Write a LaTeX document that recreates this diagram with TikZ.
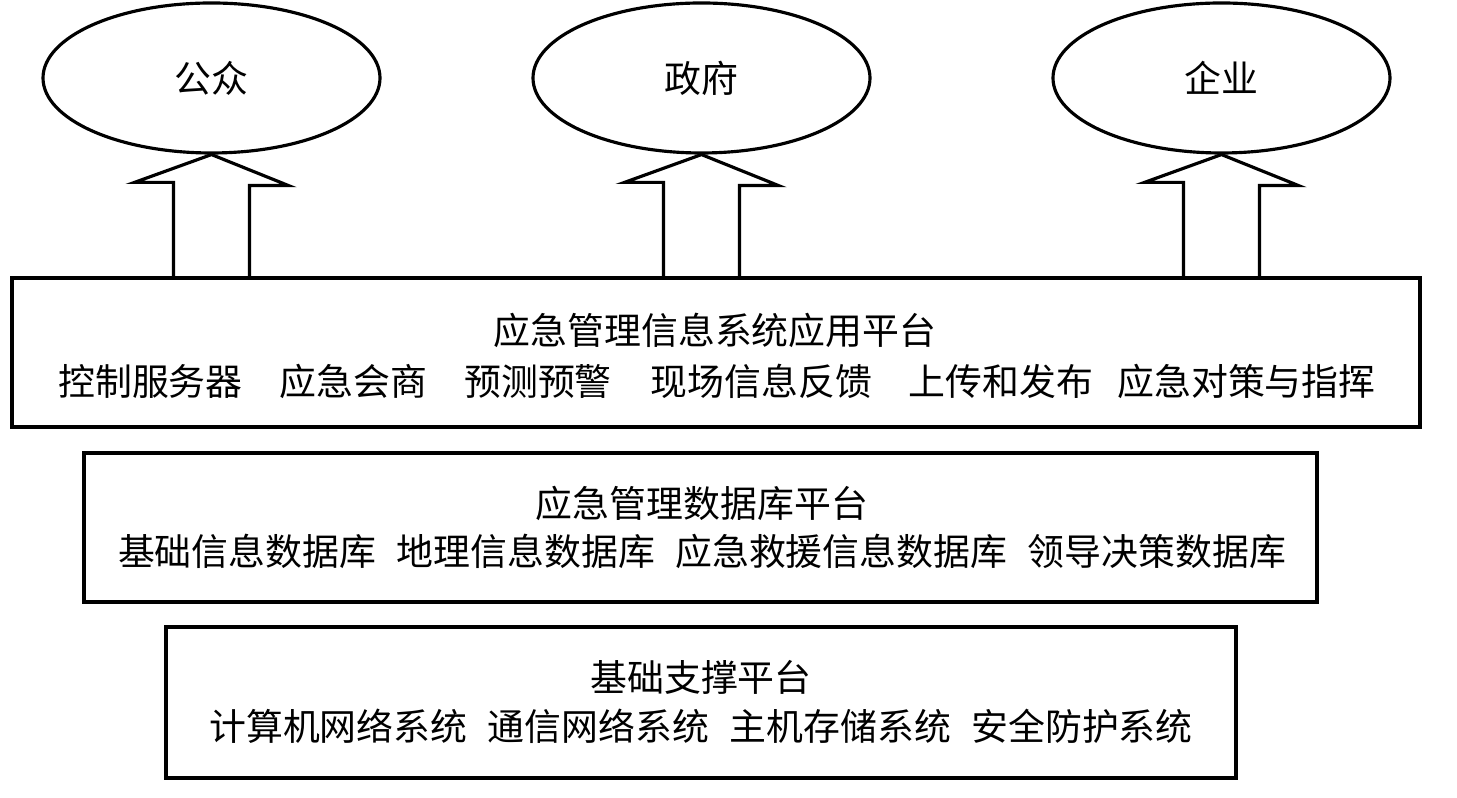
\documentclass[tikz,border=0pt]{standalone}
\usepackage{fontspec}
\newfontfamily\cjk{Noto Sans CJK SC}
\usepackage{tikz}
\usetikzlibrary{shapes.geometric,calc}

\tikzset{
  user/.style={draw, ellipse, line width=0.9pt, minimum width=3.37cm, minimum height=1.50cm, inner sep=0pt},
  layer/.style={draw, rectangle, line width=0.9pt, inner sep=0pt},
  layertext/.style={inner sep=0pt, font=\cjk\fontsize{10.5pt}{12pt}\selectfont},
  blockarrow/.style={line width=0.9pt, line join=miter}
}

\begin{document}
\begin{tikzpicture}
  \useasboundingbox (0,0) rectangle (14.57,-7.98);
  % users on top
  \node[user] (gz) at (2.115,-0.78) {};
  \node[user] (zf) at (7.015,-0.78) {};
  \node[user] (qy) at (12.215,-0.78) {};
  \node[layertext] at (gz) {公众};
  \node[layertext] at (zf) {政府};
  \node[layertext] at (qy) {企业};
  % three platform layers
  \node[layer, minimum width=14.08cm, minimum height=1.49cm] (app) at (7.16,-3.525) {};
  \node[layer, minimum width=12.33cm, minimum height=1.49cm] (db) at (7.005,-5.275) {};
  \node[layer, minimum width=10.70cm, minimum height=1.51cm] (base) at (7.01,-7.025) {};
  \node[layertext] at (7.15,-3.30) {应急管理信息系统应用平台};
  \node[layertext] at (7.17,-3.81) {控制服务器\hspace{1em}应急会商\hspace{1em}预测预警\hspace{1.05em}现场信息反馈\hspace{1em}上传和发布\hspace{0.65em}应急对策与指挥};
  \node[layertext] at (7.02,-5.03) {应急管理数据库平台};
  \node[layertext] at (7.02,-5.51) {基础信息数据库\hspace{0.55em}地理信息数据库\hspace{0.55em}应急救援信息数据库\hspace{0.55em}领导决策数据库};
  \node[layertext] at (7.01,-6.77) {基础支撑平台};
  \node[layertext] at (7.01,-7.26) {计算机网络系统\hspace{0.55em}通信网络系统\hspace{0.55em}主机存储系统\hspace{0.55em}安全防护系统};
  % hollow arrows from the application layer up to each user
  \foreach \e in {gz, zf, qy} {
    \coordinate (foot) at (\e.south |- app.north);
    \draw[blockarrow] ($(foot)+(-0.38,0)$) -- ++(0,0.94) -- ++(-0.39,0) -- (\e.south)
      -- ++(0.77,-0.31) -- ++(-0.39,0) -- ($(foot)+(0.38,0)$);
  }
\end{tikzpicture}
\end{document}
